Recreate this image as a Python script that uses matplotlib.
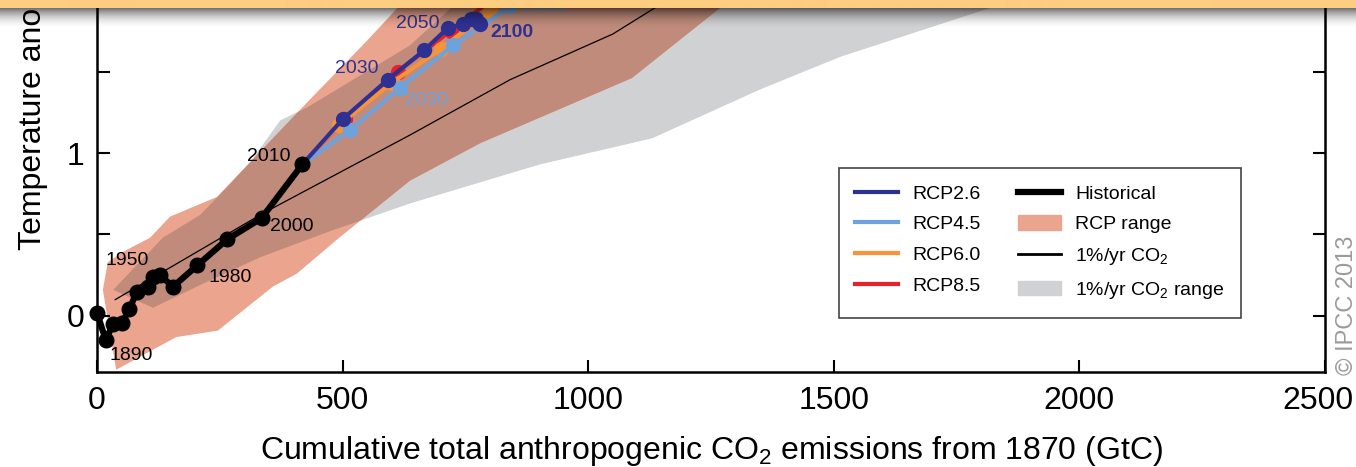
import numpy as np
import matplotlib
matplotlib.use("Agg")
import matplotlib.pyplot as plt
from matplotlib.lines import Line2D
from matplotlib.patches import Patch
from matplotlib.transforms import ScaledTranslation

plt.rcParams['font.family'] = ['Liberation Sans', 'DejaVu Sans']
plt.rcParams['mathtext.default'] = 'regular'

# historical decadal means (cumulative GtC, warming degC)
hist_years = [1880, 1890, 1900, 1910, 1920, 1930, 1940, 1950, 1960, 1970, 1980, 1990, 2000, 2010]
hist_x = [0, 18, 32, 50, 66, 81, 104, 115, 128, 155, 204, 265, 335, 418]
hist_y = [0.02, -0.15, -0.05, -0.045, 0.04, 0.15, 0.18, 0.24, 0.25, 0.18, 0.31, 0.47, 0.60, 0.93]
hist_labelled = [1890, 1950, 1980, 2000, 2010]

# RCP scenario means
rcp26_years = [2010, 2020, 2030, 2040, 2050, 2060, 2070, 2080, 2090, 2100]
rcp26_x = [418, 501, 592, 666, 715, 745, 761, 771, 777, 780]
rcp26_y = [0.93, 1.21, 1.45, 1.63, 1.77, 1.79, 1.82, 1.82, 1.80, 1.79]

rcp45_years = [2010, 2020, 2030, 2040, 2050, 2060]
rcp45_x = [418, 515, 617, 725, 841, 945]
rcp45_y = [0.93, 1.14, 1.40, 1.66, 1.90, 2.08]

rcp60_years = [2010, 2020, 2030, 2040, 2050, 2060]
rcp60_x = [418, 492, 600, 700, 800, 905]
rcp60_y = [0.93, 1.17, 1.43, 1.64, 1.87, 2.08]

rcp85_years = [2010, 2020, 2030, 2040, 2050]
rcp85_x = [418, 505, 612, 720, 830]
rcp85_y = [0.93, 1.21, 1.50, 1.75, 2.00]

# 1%/yr CO2 model mean
pct_x = [37, 338, 637, 841, 1050, 1146, 1228]
pct_y = [0.10, 0.63, 1.11, 1.45, 1.73, 1.91, 2.06]

# RCP range envelope
rcp_up_x = [12, 22, 57, 108, 149, 244, 434, 550, 627, 698]
rcp_up_y = [0.16, 0.33, 0.40, 0.48, 0.61, 0.73, 1.33, 1.69, 1.94, 2.18]
rcp_lo_x = [39, 161, 246, 358, 407, 489, 637, 780, 1089, 1289, 1350]
rcp_lo_y = [-0.33, -0.13, -0.09, 0.18, 0.26, 0.47, 0.83, 1.06, 1.46, 1.94, 2.12]

# 1%/yr CO2 range envelope
pct_up_x = [33, 134, 210, 265, 311, 373, 428, 637, 739, 800]
pct_up_y = [0.16, 0.48, 0.62, 0.79, 0.94, 1.20, 1.28, 1.66, 1.94, 2.12]
pct_lo_x = [114, 210, 332, 474, 637, 780, 902, 1130, 1350, 1513, 1818, 1899]
pct_lo_y = [0.05, 0.19, 0.36, 0.52, 0.69, 0.82, 0.93, 1.09, 1.39, 1.59, 1.89, 2.0]

C26 = '#2e3192'
C45 = '#6fa2da'
C60 = '#f7933b'
C85 = '#e8202a'
SALMON = '#eba48e'
GREY = '#d0d1d3'
BROWN = '#c08b7b'

fig = plt.figure(figsize=(13.56, 4.67), dpi=100)
ax = fig.add_axes([97 / 1356, 1 - 372 / 467, 1228 / 1356, 372 / 467])

# ranges: grey, salmon, and the overlap drawn darker
ax.fill(pct_up_x + pct_lo_x[::-1], pct_up_y + pct_lo_y[::-1], color=GREY, lw=0, zorder=1)
rcp_patch = ax.fill(rcp_up_x + rcp_lo_x[::-1], rcp_up_y + rcp_lo_y[::-1], color=SALMON, lw=0, zorder=1.1)[0]
overlap = ax.fill(pct_up_x + pct_lo_x[::-1], pct_up_y + pct_lo_y[::-1], color=BROWN, lw=0, zorder=1.2)[0]
overlap.set_clip_path(rcp_patch)

ax.plot(pct_x, pct_y, color='black', lw=0.9, zorder=2)

ax.plot(rcp85_x, rcp85_y, '-o', color=C85, lw=3, ms=10, zorder=3)
ax.plot(rcp60_x, rcp60_y, '-o', color=C60, lw=3, ms=10, zorder=3.1)
ax.plot(rcp45_x, rcp45_y, '-o', color=C45, lw=3, ms=10, zorder=3.2)
ax.plot(rcp26_x, rcp26_y, '-o', color=C26, lw=3, ms=10, zorder=3.3)
ax.plot(hist_x, hist_y, '-o', color='black', lw=4.5, ms=10.5, zorder=5, clip_on=False)

# year annotations
hist_offsets = {1890: (18, -11), 1950: (-19, 12), 1980: (24, -9), 2000: (22, -6), 2010: (-24, 6)}
for yr in hist_labelled:
    i = hist_years.index(yr)
    ax.annotate(str(yr), (hist_x[i], hist_y[i]), xytext=hist_offsets[yr], textcoords='offset points',
                ha='center', va='center', fontsize=14, color='black', zorder=6)

for yr, off, bold in [(2030, (-22, 8), False), (2050, (-22, 3), False), (2100, (23, -6), True)]:
    i = rcp26_years.index(yr)
    ax.annotate(str(yr), (rcp26_x[i], rcp26_y[i]), xytext=off, textcoords='offset points',
                ha='center', va='center', fontsize=14, color=C26,
                fontweight='bold' if bold else 'normal', zorder=6)

for yr, off in [(2030, (19, -9)), (2050, (25, -1))]:
    i = rcp45_years.index(yr)
    ax.annotate(str(yr), (rcp45_x[i], rcp45_y[i]), xytext=off, textcoords='offset points',
                ha='center', va='center', fontsize=14, color=C45, zorder=6)

ax.set_xlim(0, 2500)
ax.set_ylim(-0.344, 1.939)
ax.set_xticks([0, 500, 1000, 1500, 2000, 2500])
ax.set_yticks([0, 0.5, 1, 1.5])
ax.set_yticklabels(['0', '', '1', ''])
ax.tick_params(direction='in', length=9, width=1.5, labelsize=23, right=True, top=False)
ax.tick_params(axis='x', pad=10)
ax.tick_params(axis='y', pad=9)
for side in ['left', 'right', 'bottom']:
    ax.spines[side].set_linewidth(1.8)
ax.spines['top'].set_visible(False)

# last x label sits a little inward so it stays on the canvas
last = ax.get_xticklabels()[-1]
last.set_transform(last.get_transform() + ScaledTranslation(-7 / 100, 0, fig.dpi_scale_trans))

ax.set_xlabel('Cumulative total anthropogenic CO$_2$ emissions from 1870 (GtC)', fontsize=23)
ax.xaxis.set_label_coords(0.5, -0.234)
ax.xaxis.label.set_va('baseline')
ax.text(-0.052, 0.328, 'Temperature anomaly relative to 1861\u20131880 (\u00b0C)', transform=ax.transAxes,
        rotation=90, ha='center', va='bottom', fontsize=23)

handles = [Line2D([], [], color=C26, lw=3), Line2D([], [], color=C45, lw=3),
           Line2D([], [], color=C60, lw=3), Line2D([], [], color=C85, lw=3),
           Line2D([], [], color='black', lw=4.5), Patch(color=SALMON),
           Line2D([], [], color='black', lw=2), Patch(color=GREY)]
labels = ['RCP2.6', 'RCP4.5', 'RCP6.0', 'RCP8.5',
          'Historical', 'RCP range', '1%/yr CO$_2$', '1%/yr CO$_2$ range']
leg = ax.legend(handles, labels, ncol=2, loc='upper left', bbox_to_anchor=(0.604, 0.548),
                borderaxespad=0, fontsize=14, fancybox=False, edgecolor='#444444', framealpha=1,
                handlelength=2.2, handletextpad=0.72, columnspacing=1.95, labelspacing=0.66,
                borderpad=0.85, handleheight=0.75)
leg.get_frame().set_linewidth(1.2)
leg.set_zorder(7)

fig.text(1347 / 1356, 1 - 305 / 467, '\u00a9 IPCC 2013', rotation=90, ha='center', va='center',
         color='#9b9b9b', fontsize=17)

# banner strip with a soft shadow underneath
band = fig.add_axes([0, 1 - 30 / 467, 1, 30 / 467], zorder=10)
strip = np.zeros((30, 1, 4))
strip[:8, 0, :] = [253 / 255, 205 / 255, 130 / 255, 1]
t = np.linspace(0, 1, 22)
strip[8:, 0, 3] = 0.55 * (1 - t) ** 2
band.imshow(strip, aspect='auto', interpolation='bilinear')
band.axis('off')

fig.savefig('out.png', dpi=100)
